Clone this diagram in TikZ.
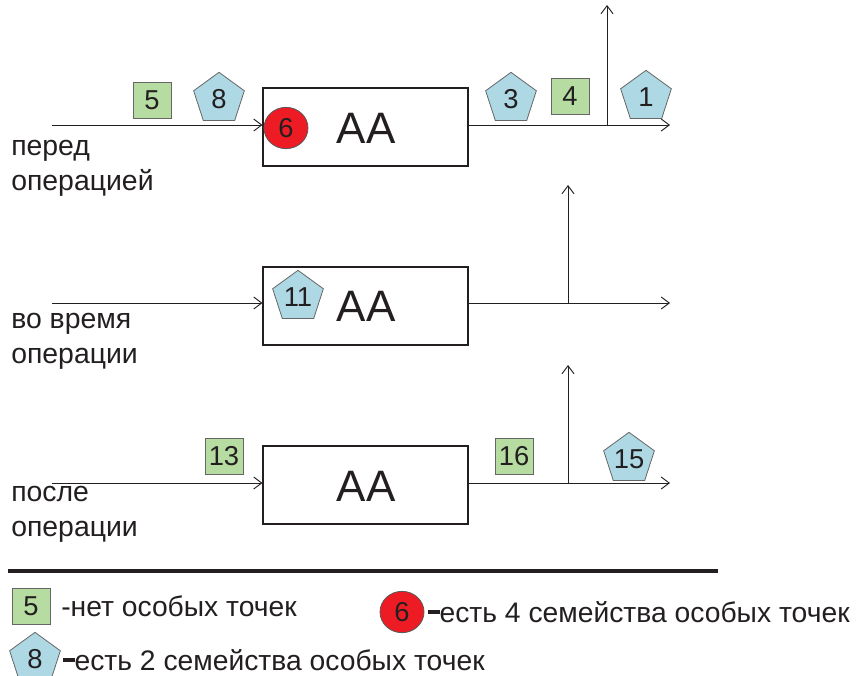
\documentclass[tikz,border=0pt]{standalone}
\usepackage{fontspec}
\setmainfont{Liberation Sans}
\usetikzlibrary{shapes.geometric,arrows.meta}
\definecolor{gfill}{HTML}{B6DCA2}
\definecolor{bfill}{HTML}{ADD8E4}
\definecolor{rfill}{HTML}{ED1C24}
\definecolor{ink}{HTML}{231F20}
\tikzset{
  box/.style={draw=ink, line width=0.8pt, minimum width=153.75pt, minimum height=58.5pt, inner sep=0pt},
  aa/.style={font=\fontsize{33}{36}\selectfont, text=ink},
  sq/.style={draw=gray!80!black, line width=0.6pt, fill=gfill, minimum width=28.5pt, minimum height=27pt, inner sep=0pt, font=\fontsize{20.5}{22}\selectfont, text=ink},
  pent/.style={regular polygon, regular polygon sides=5, draw=gray!80!black, line width=0.6pt, fill=bfill, minimum size=40pt, inner sep=0pt, font=\fontsize{20.5}{22}\selectfont, text=ink},
  rc/.style={ellipse, draw=gray!70!black, line width=0.6pt, fill=rfill, minimum width=33pt, minimum height=31pt, inner sep=0pt, font=\fontsize{20.5}{22}\selectfont, text=ink},
  arr/.style={draw=ink, line width=0.7pt, -{Straight Barb[length=6pt,width=9pt]}},
  lbl/.style={anchor=west, align=left, font=\fontsize{21.3}{26.3}\selectfont, text=ink, inner sep=0pt},
  leg/.style={anchor=west, font=\fontsize{21.2}{24}\selectfont, text=ink, inner sep=0pt}
}
\newcommand{\thickdash}{\rule[0.28em]{0.4em}{0.16em}}
\begin{document}
\begin{tikzpicture}[x=0.75pt,y=-0.75pt]
\useasboundingbox (0,0) rectangle (856,675);
% Row 1
\node[box] (b1) at (365.5,127) {};
\node[aa] (aa1) at (366,128) {AA};
\coordinate (i1) at (52,125);
\draw[arr] (i1) -- (b1.west |- i1);
\coordinate (o1) at (670,125);
\draw[arr] (b1.east |- o1) -- (o1);
\coordinate (v1) at (607,125);
\coordinate (u1) at (607,5);
\draw[arr] (v1) -- (u1);
\node[sq] (s5) at (152,100) {5};
\node[pent] (p8) at (219,99) {8};
\node[rc] (r6) at (286,128) {6};
\node[pent] (p3) at (511,99) {3};
\node[sq] (s4) at (570,96) {4};
\node[pent] (p1) at (646,97) {1};
\node[lbl] (t1) at (11,168) {перед\\операцией};
% Row 2
\node[box] (b2) at (365.5,306) {};
\node[aa] (aa2) at (366,306) {AA};
\coordinate (i2) at (52,303);
\draw[arr] (i2) -- (b2.west |- i2);
\coordinate (o2) at (670,303);
\draw[arr] (b2.east |- o2) -- (o2);
\coordinate (v2) at (568,303);
\coordinate (u2) at (568,185);
\draw[arr] (v2) -- (u2);
\node[pent] (p11) at (298,297) {11};
\node[lbl] (t2) at (11,341) {во время\\операции};
% Row 3
\node[box] (b3) at (365.5,485) {};
\node[aa] (aa3) at (366,486) {AA};
\coordinate (i3) at (52,483);
\draw[arr] (i3) -- (b3.west |- i3);
\coordinate (o3) at (670,483);
\draw[arr] (b3.east |- o3) -- (o3);
\coordinate (v3) at (568,483);
\coordinate (u3) at (568,365);
\draw[arr] (v3) -- (u3);
\node[sq] (s13) at (224,456) {13};
\node[sq] (s16) at (514,456) {16};
\node[pent] (p15) at (629,459) {15};
\node[lbl] (t3) at (11,514) {после\\операции};
% separator
\coordinate (h1) at (8,571);
\coordinate (h2) at (718,571);
\draw[ink, line width=3pt] (h1) -- (h2);
% legend
\node[sq] (ls5) at (31,606) {5};
\node[leg] (lt5) at (61,606) {-нет особых точек};
\node[rc] (lr6) at (402,612) {6};
\node[leg] (lt6) at (428,612) {\thickdash есть 4 семейства особых точек};
\node[pent] (lp8) at (35,659) {8};
\node[leg] (lt8) at (63,660) {\thickdash есть 2 семейства особых точек};
\end{tikzpicture}
\end{document}
